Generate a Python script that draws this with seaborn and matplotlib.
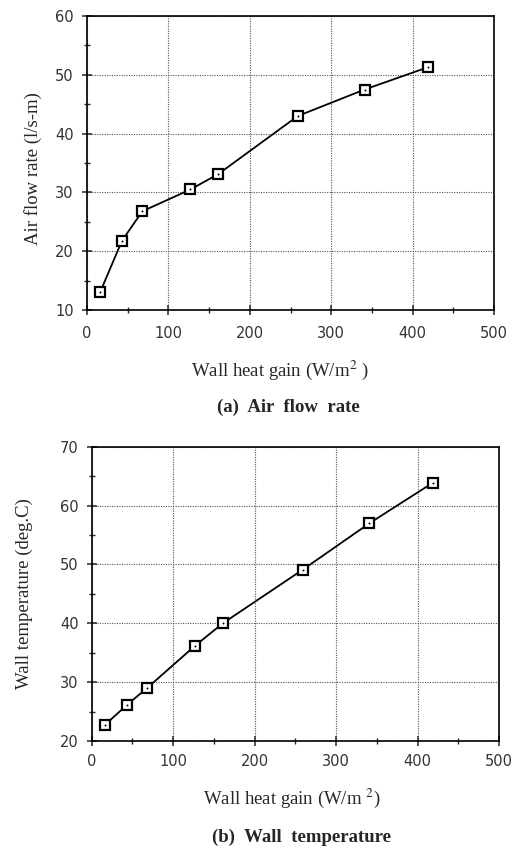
import matplotlib
matplotlib.use("Agg")
import matplotlib.pyplot as plt
import seaborn as sns
import pandas as pd
from matplotlib.ticker import MultipleLocator

# values
heat_gain = [16, 43, 68, 127, 161, 259, 341, 419]
air_flow = [13.0, 21.8, 26.8, 30.5, 33.1, 43.0, 47.5, 51.3]
wall_temp = [22.7, 26.1, 29.0, 36.2, 40.0, 49.1, 57.0, 63.9]

x_ticks = [0, 100, 200, 300, 400, 500]
flow_ticks = [10, 20, 30, 40, 50, 60]
temp_ticks = [20, 30, 40, 50, 60, 70]

df = pd.DataFrame({"gain": heat_gain, "flow": air_flow, "temp": wall_temp})

sns.set_style("white")
plt.rcParams["font.family"] = ["Liberation Serif", "DejaVu Serif"]
plt.rcParams["mathtext.fontset"] = "stix"

fig = plt.figure(figsize=(5.14, 8.48), dpi=100)
ax1 = fig.add_axes([0.1693, 0.6344, 0.7918, 0.3467])
ax2 = fig.add_axes([0.1784, 0.1262, 0.7924, 0.3470])


def draw(ax, col, yticks, xpad):
    sns.lineplot(data=df, x="gain", y=col, ax=ax, color="black", linewidth=1.3,
                 marker="s", markersize=7, markerfacecolor="white",
                 markeredgecolor="black", markeredgewidth=1.6)
    sns.scatterplot(data=df, x="gain", y=col, ax=ax, color="black", s=2,
                    linewidth=0, zorder=5)
    ax.set_xlim(x_ticks[0], x_ticks[-1])
    ax.set_ylim(yticks[0], yticks[-1])
    ax.set_xticks(x_ticks)
    ax.set_yticks(yticks)
    ax.xaxis.set_minor_locator(MultipleLocator(50))
    ax.yaxis.set_minor_locator(MultipleLocator(5))
    ax.grid(True, which="major", linestyle=(0, (1, 1.2)), color="#555555", linewidth=0.8)
    for s in ax.spines.values():
        s.set_color("black")
        s.set_linewidth(1.2)
    ax.tick_params(axis="both", which="both", bottom=True, left=True, top=False, right=False)
    ax.tick_params(axis="both", which="major", direction="inout", length=7, width=1.1,
                   labelsize=10.5, labelcolor="#333333")
    ax.tick_params(axis="both", which="minor", direction="inout", length=4, width=1.0)
    ax.tick_params(axis="x", which="major", pad=xpad)
    ax.tick_params(axis="y", which="major", pad=6)
    for lab in ax.get_xticklabels() + ax.get_yticklabels():
        lab.set_family("DejaVu Sans")


draw(ax1, "flow", flow_ticks, 8)
draw(ax2, "temp", temp_ticks, 6)

ax1.set_xlabel("Wall heat gain (W/m$^{2}$ )", fontsize=13.5)
ax1.xaxis.set_label_coords(0.474, -0.204)
ax1.xaxis.label.set_va("center")
ax1.set_ylabel("Air flow rate (l/s-m)", fontsize=13.5)
ax1.yaxis.set_label_coords(-0.133, 0.48)
ax1.yaxis.label.set_va("center")
ax1.text(0.494, -0.330, "(a)  Air  flow  rate", transform=ax1.transAxes,
         ha="center", va="center", fontsize=13.5, fontweight="bold")

ax2.set_xlabel("Wall heat gain (W/m $^{2}$)", fontsize=13.5)
ax2.xaxis.set_label_coords(0.492, -0.194)
ax2.xaxis.label.set_va("center")
ax2.set_ylabel("Wall temperature (deg.C)", fontsize=13.5)
ax2.yaxis.set_label_coords(-0.166, 0.5)
ax2.yaxis.label.set_va("center")
ax2.text(0.514, -0.326, "(b)  Wall  temperature", transform=ax2.transAxes,
         ha="center", va="center", fontsize=13.5, fontweight="bold")

fig.savefig("out.png", dpi=100)
